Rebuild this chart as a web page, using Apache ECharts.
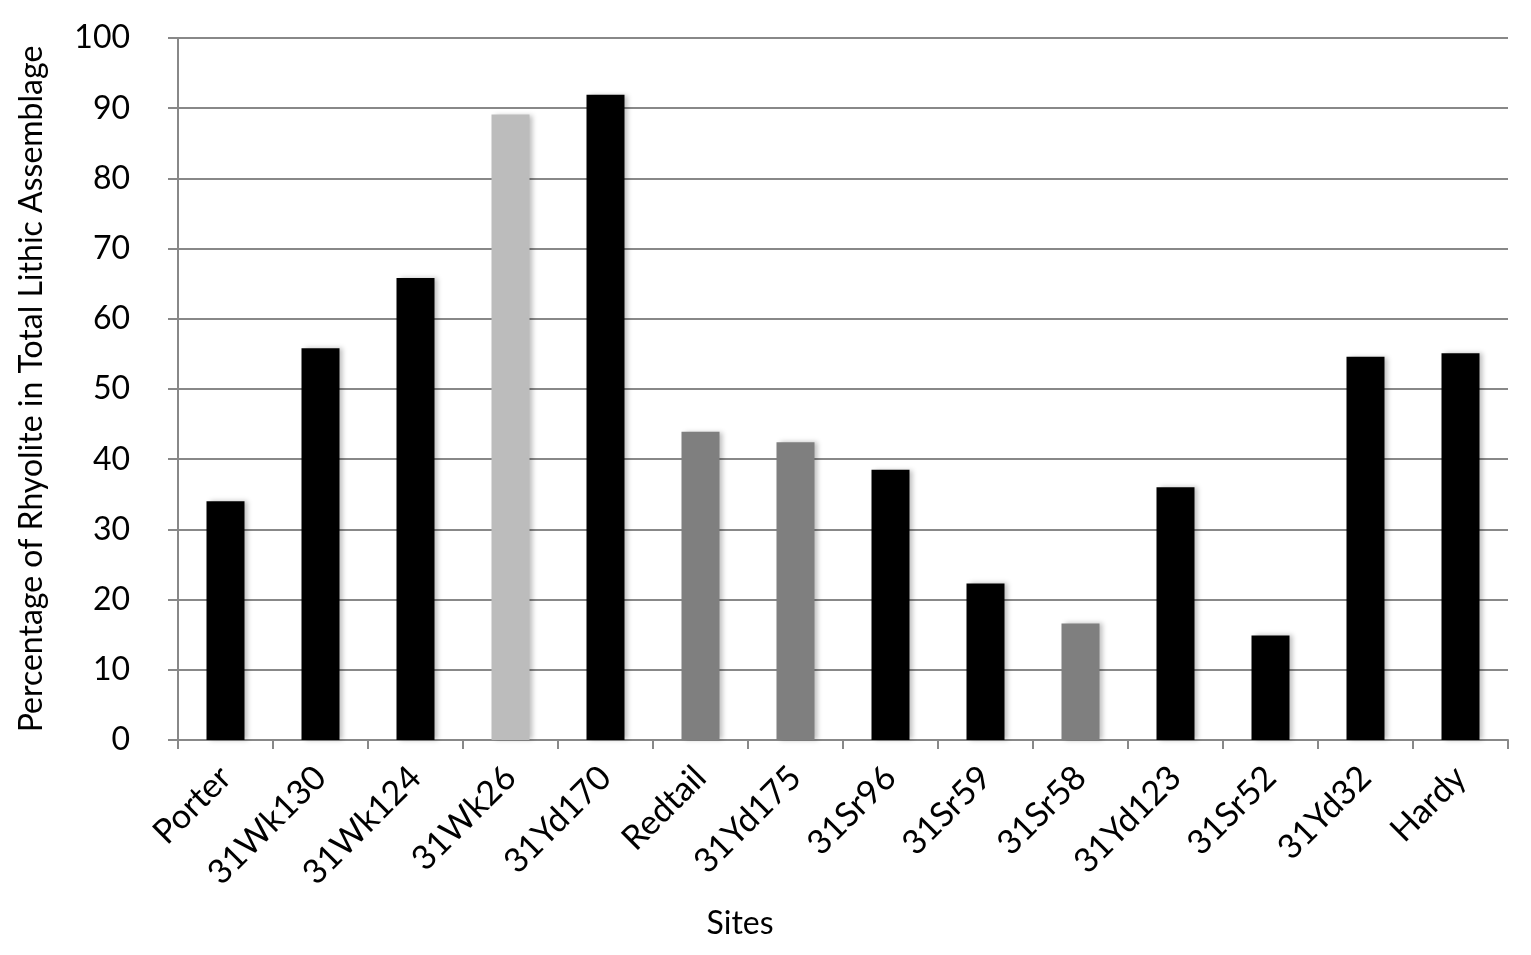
<!DOCTYPE html>
<html>
<head>
<meta charset="utf-8">
<script src="https://cdn.jsdelivr.net/npm/echarts@6/dist/echarts.min.js"></script>
<style>html,body{margin:0;padding:0;background:#fff;}#c{width:1531px;height:955px;}</style>
</head>
<body>
<div id="c"></div>
<script>
const sites = ['Porter','31Wk130','31Wk124','31Wk26','31Yd170','Redtail','31Yd175','31Sr96','31Sr59','31Sr58','31Yd123','31Sr52','31Yd32','Hardy'];
const rhyolitePct = [34.0, 55.8, 65.8, 89.1, 91.9, 43.9, 42.4, 38.5, 22.3, 16.6, 36.0, 14.9, 54.6, 55.1];
const siteGroup = ['dark','dark','dark','light','dark','mid','mid','dark','dark','mid','dark','dark','dark','dark'];
const yTicks = [0,10,20,30,40,50,60,70,80,90,100];

const groupColor = {dark:'#000000', mid:'#7f7f7f', light:'#bcbcbc'};
const font = 'Lato, "Open Sans", sans-serif';

const chart = echarts.init(document.getElementById('c'));
chart.setOption({
  animation: false,
  backgroundColor: '#ffffff',
  title: {
    text: 'Sites',
    left: 735, top: 903,
    textAlign: 'center',
    textStyle: {fontFamily: font, fontSize: 32, fontWeight: 'normal', color: '#000'}
  },
  grid: {left: 178, right: 23, top: 38, bottom: 215, containLabel: false},
  xAxis: {
    type: 'category',
    data: sites,
    axisLine: {lineStyle: {color: '#888', width: 2}},
    axisTick: {show: true, alignWithLabel: false, length: 9, lineStyle: {color: '#888', width: 2}},
    axisLabel: {rotate: 45, fontFamily: font, fontSize: 34, color: '#000', margin: 32, interval: 0}
  },
  yAxis: {
    type: 'value',
    min: yTicks[0], max: yTicks[yTicks.length-1], interval: 10,
    name: 'Percentage of Rhyolite in Total Lithic Assemblage',
    nameLocation: 'middle',
    nameGap: 130,
    nameTextStyle: {fontFamily: font, fontSize: 32, color: '#000'},
    axisLine: {show: true, lineStyle: {color: '#888', width: 2}},
    axisTick: {show: true, length: 10, lineStyle: {color: '#888', width: 2}},
    axisLabel: {fontFamily: font, fontSize: 32, color: '#000', margin: 48},
    splitLine: {lineStyle: {color: '#888', width: 2}}
  },
  series: [{
    type: 'bar',
    barCategoryGap: '60%',
    data: rhyolitePct.map((v, i) => ({
      value: v,
      itemStyle: {color: groupColor[siteGroup[i]]}
    })),
    itemStyle: {shadowColor: 'rgba(0,0,0,0.25)', shadowBlur: 5, shadowOffsetX: 3, shadowOffsetY: 0}
  }]
});
</script>
</body>
</html>
